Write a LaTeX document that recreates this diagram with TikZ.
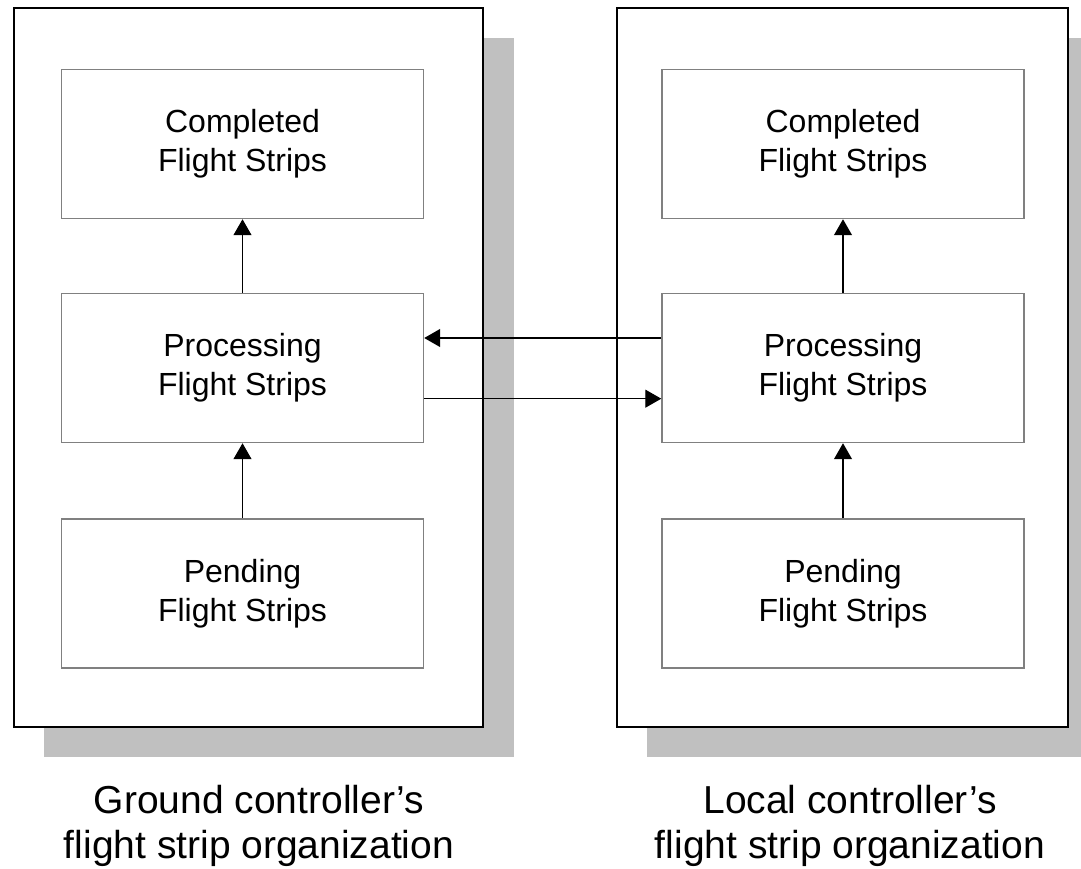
\documentclass[tikz,border=0pt]{standalone}
\usepackage{fontspec}
\setmainfont{Liberation Sans}
\usetikzlibrary{arrows.meta,positioning}
\definecolor{shadowgray}{HTML}{C0C0C0}
\definecolor{boxgray}{HTML}{808080}

\begin{document}
\begin{tikzpicture}[x=.75pt,y=-.75pt,
    panel/.style={draw=black,line width=.9pt,fill=white,inner sep=0pt},
    stripbox/.style={draw=boxgray,line width=1.1pt,fill=white,minimum width=271.5pt,minimum height=111.75pt,align=center,font=\fontsize{24}{29.25}\selectfont},
    caption/.style={align=center,font=\fontsize{29.25}{33.75}\selectfont},
    flow/.style={draw=black,line width=.9pt,-{Triangle[length=12pt,width=13.5pt]}}]
        \useasboundingbox (0,0) rectangle (1081,868);

        \fill[shadowgray] (44,38) rectangle (514,757);
        \node[panel,minimum width=351.75pt,minimum height=539.25pt] (gpanel) at (248.5,367.5) {};
        \node[stripbox] (gcomp) at (242.5,144) {Completed\\Flight Strips};
        \node[stripbox] (gproc) at (242.5,368) {Processing\\Flight Strips};
        \node[stripbox] (gpend) at (242.5,593.5) {Pending\\Flight Strips};

        \fill[shadowgray] (647,38) rectangle (1081,757);
        \node[panel,minimum width=338.25pt,minimum height=539.25pt] (lpanel) at (842.5,367.5) {};
        \node[stripbox] (lcomp) at (843,144) {Completed\\Flight Strips};
        \node[stripbox] (lproc) at (843,368) {Processing\\Flight Strips};
        \node[stripbox] (lpend) at (843,593.5) {Pending\\Flight Strips};

        \draw[flow] (gpend) -- (gproc);
        \draw[flow] (gproc) -- (gcomp);
        \draw[flow] (lpend) -- (lproc);
        \draw[flow] (lproc) -- (lcomp);
        \draw[flow] ([yshift=22.5pt]lproc.west) -- ([yshift=22.5pt]gproc.east);
        \draw[flow] ([yshift=-23pt]gproc.east) -- ([yshift=-23pt]lproc.west);

        \node[caption] (gcap) at (259,826) {Ground controller’s\\flight strip organization};
        \node[caption] (lcap) at (850,826) {Local controller’s\\flight strip organization};
      \end{tikzpicture}
\end{document}
